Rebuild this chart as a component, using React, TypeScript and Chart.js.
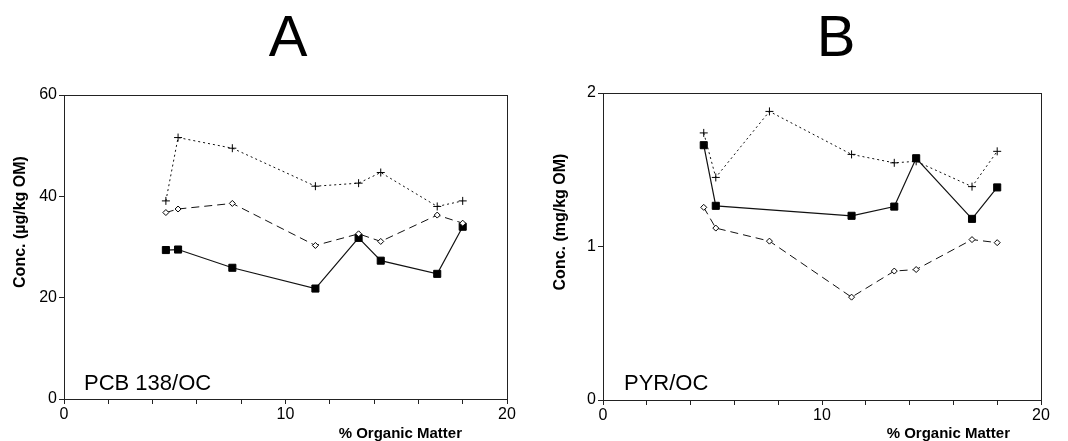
import React, { useEffect, useRef } from "react";
import { Chart, registerables } from "chart.js";

Chart.register(...registerables);

// % organic matter of the sediment samples (shared by both panels)
const organicMatter = [4.6, 5.15, 7.6, 11.35, 13.3, 14.3, 16.85, 18.0];

// Panel A: PCB 138 / OC, µg/kg OM
const pcbSolid = [29.4, 29.5, 25.9, 21.8, 31.8, 27.3, 24.7, 34.0];
const pcbDashed = [36.8, 37.5, 38.6, 30.3, 32.6, 31.1, 36.3, 34.7];
const pcbDotted = [39.1, 51.6, 49.5, 42.0, 42.6, 44.7, 38.0, 39.1];

// Panel B: PYR / OC, mg/kg OM (no solid value at 7.6 %)
const pyrSolid = [1.66, 1.265, null, 1.2, 1.26, 1.575, 1.18, 1.385];
const pyrDashed = [1.255, 1.12, 1.035, 0.67, 0.84, 0.85, 1.045, 1.025];
const pyrDotted = [1.74, 1.45, 1.88, 1.6, 1.545, 1.555, 1.39, 1.62];

const xTickLabels = ["0", "10", "20"];
const pcbTicks = [0, 20, 40, 60];
const pyrTicks = [0, 1, 2];

const FONT = "'Liberation Sans', Arial, Helvetica, sans-serif";

type PanelCfg = {
  letter: string;
  letterX: number;
  inner: string;
  innerX: number;
  innerY: number;
  yTitle: string;
  yTitleX: number;
  yTitleY: number;
  xTitle: string;
  xTitleRight: number;
  xTitleY: number;
};

const panelText = {
  id: "panelText",
  beforeDatasetsDraw(chart: any) {
    const { ctx, chartArea } = chart;
    ctx.save();
    ctx.strokeStyle = "#222";
    ctx.lineWidth = 1;
    ctx.strokeRect(
      Math.round(chartArea.left) + 0.5,
      Math.round(chartArea.top) + 0.5,
      Math.round(chartArea.right - chartArea.left),
      Math.round(chartArea.bottom - chartArea.top)
    );
    ctx.restore();
  },
  afterDraw(chart: any, _args: any, opts: PanelCfg) {
    const { ctx } = chart;
    ctx.save();
    ctx.fillStyle = "#000";
    ctx.textBaseline = "alphabetic";
    // panel letter
    ctx.font = `58px ${FONT}`;
    ctx.textAlign = "center";
    ctx.fillText(opts.letter, opts.letterX, 56);
    // inner label
    ctx.font = `22px ${FONT}`;
    ctx.textAlign = "left";
    ctx.fillText(opts.inner, opts.innerX, opts.innerY);
    // x title
    ctx.font = `bold 15px ${FONT}`;
    ctx.textAlign = "right";
    ctx.fillText(opts.xTitle, opts.xTitleRight, opts.xTitleY);
    // y title
    ctx.font = `bold 16px ${FONT}`;
    ctx.translate(opts.yTitleX, opts.yTitleY);
    ctx.rotate(-Math.PI / 2);
    ctx.textAlign = "center";
    ctx.textBaseline = "middle";
    ctx.fillText(opts.yTitle, 0, 0);
    ctx.restore();
  },
};

function makeConfig(
  solid: (number | null)[],
  dashed: number[],
  dotted: number[],
  yTicks: number[],
  yWidth: number,
  top: number,
  xHeight: number,
  text: PanelCfg
): any {
  const pts = (arr: (number | null)[]) =>
    organicMatter.map((x, i) => ({ x, y: arr[i] }));
  const yMax = yTicks[yTicks.length - 1];
  const yStep = yTicks[1] - yTicks[0];
  return {
    type: "line",
    data: {
      datasets: [
        {
          data: pts(dotted),
          borderColor: "#111",
          borderWidth: 1,
          borderDash: [2, 3],
          pointStyle: "cross",
          pointRadius: 4,
          pointBorderWidth: 1,
          pointBorderColor: "#000",
          fill: false,
          tension: 0,
        },
        {
          data: pts(dashed),
          borderColor: "#111",
          borderWidth: 1,
          borderDash: [8, 5],
          pointStyle: "rectRot",
          pointRadius: 3,
          pointBorderWidth: 1,
          pointBorderColor: "#000",
          pointBackgroundColor: "#fff",
          fill: false,
          tension: 0,
        },
        {
          data: pts(solid),
          borderColor: "#111",
          borderWidth: 1.2,
          pointStyle: "rect",
          pointRadius: 5,
          pointBorderWidth: 1,
          pointBorderColor: "#000",
          pointBackgroundColor: "#000",
          spanGaps: true,
          fill: false,
          tension: 0,
        },
      ],
    },
    options: {
      responsive: false,
      animation: false,
      events: [],
      layout: { padding: { top, right: 27, left: 0, bottom: 0 } },
      plugins: {
        legend: { display: false },
        tooltip: { enabled: false },
        title: { display: false },
        panelText: text,
      },
      scales: {
        x: {
          type: "linear",
          min: 0,
          max: 20,
          afterFit: (s: any) => {
            s.height = xHeight;
          },
          border: { display: true, color: "#222", width: 1 },
          grid: {
            display: true,
            drawOnChartArea: false,
            drawTicks: true,
            tickLength: 5,
            color: "#222",
          },
          ticks: {
            stepSize: 2,
            padding: 1,
            autoSkip: false,
            maxRotation: 0,
            color: "#000",
            font: { family: FONT, size: 16 },
            callback: (v: number) => {
              const idx = v / 10;
              return Number.isInteger(idx) ? xTickLabels[idx] : "";
            },
          },
        },
        y: {
          type: "linear",
          min: 0,
          max: yMax,
          afterFit: (s: any) => {
            s.width = yWidth;
          },
          border: { display: true, color: "#222", width: 1 },
          grid: {
            display: true,
            drawOnChartArea: false,
            drawTicks: true,
            tickLength: 5,
            color: "#222",
          },
          ticks: {
            stepSize: yStep,
            padding: 2,
            color: "#000",
            font: { family: FONT, size: 16 },
            callback: (v: number) => String(v),
          },
        },
      },
    },
    plugins: [panelText],
  };
}

function Panel(props: { config: any; left: number }) {
  const ref = useRef<HTMLCanvasElement | null>(null);
  useEffect(() => {
    if (!ref.current) return;
    const chart = new Chart(ref.current, props.config);
    return () => chart.destroy();
  }, []);
  return (
    <canvas
      ref={ref}
      width={534}
      height={441}
      style={{ position: "absolute", left: props.left, top: 0, width: 534, height: 441 }}
    />
  );
}

export default function App() {
  const cfgA = makeConfig(pcbSolid, pcbDashed, pcbDotted, pcbTicks, 64, 95, 42, {
    letter: "A",
    letterX: 288,
    inner: "PCB 138/OC",
    innerX: 84,
    innerY: 390,
    yTitle: "Conc. (µg/kg OM)",
    yTitleX: 21,
    yTitleY: 222,
    xTitle: "% Organic Matter",
    xTitleRight: 462,
    xTitleY: 438,
  });
  const cfgB = makeConfig(pyrSolid, pyrDashed, pyrDotted, pyrTicks, 69, 93, 41, {
    letter: "B",
    letterX: 302,
    inner: "PYR/OC",
    innerX: 90,
    innerY: 390,
    yTitle: "Conc. (mg/kg OM)",
    yTitleX: 27,
    yTitleY: 222,
    xTitle: "% Organic Matter",
    xTitleRight: 476,
    xTitleY: 438,
  });
  return (
    <div style={{ position: "absolute", left: 0, top: 0, width: 1068, height: 441, background: "#fff" }}>
      <Panel config={cfgA} left={0} />
      <Panel config={cfgB} left={534} />
    </div>
  );
}
